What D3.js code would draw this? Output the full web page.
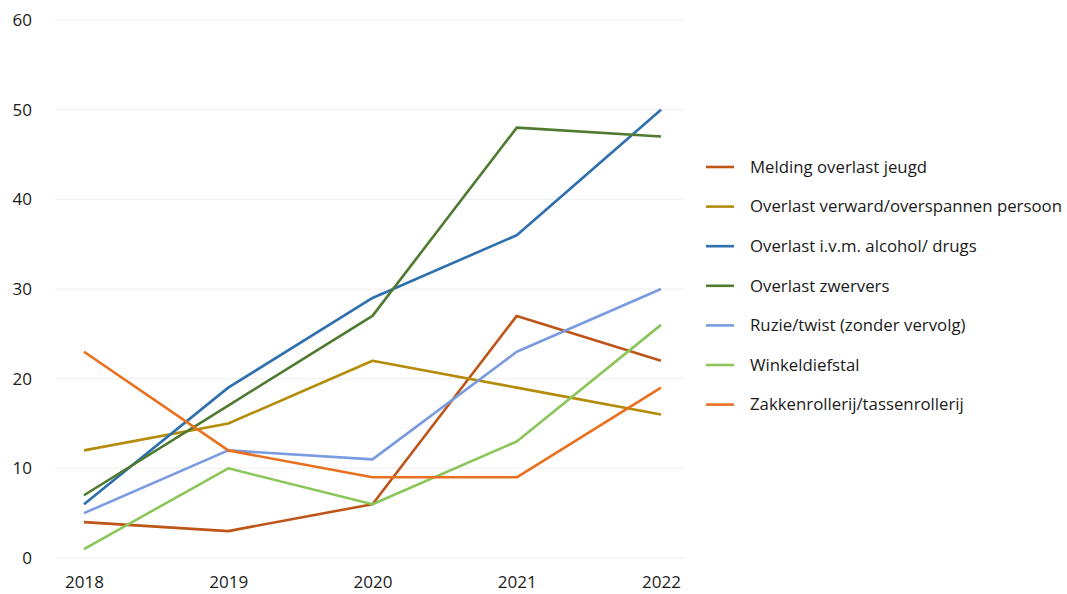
<!DOCTYPE html>
<html lang="nl">
<head>
<meta charset="UTF-8">
<title>Meldingen</title>
<script src="https://d3js.org/d3.v7.min.js"></script>
<style>
  body { margin: 0; background: #fff; }
  text { font-family: "Open Sans", "Noto Sans", sans-serif; fill: #1a1a1a; }
  .grid line { stroke: #eeeeee; stroke-width: 1px; }
  .line { fill: none; stroke-width: 2.6px; stroke-linejoin: round; }
</style>
</head>
<body>
<script>
var years = ["2018", "2019", "2020", "2021", "2022"];
var seriesNames = [
  "Melding overlast jeugd",
  "Overlast verward/overspannen persoon",
  "Overlast i.v.m. alcohol/ drugs",
  "Overlast zwervers",
  "Ruzie/twist (zonder vervolg)",
  "Winkeldiefstal",
  "Zakkenrollerij/tassenrollerij"
];
var jeugd = [4, 3, 6, 27, 22];
var verward = [12, 15, 22, 19, 16];
var alcohol = [6, 19, 29, 36, 50];
var zwervers = [7, 17, 27, 48, 47];
var ruzie = [5, 12, 11, 23, 30];
var winkel = [1, 10, 6, 13, 26];
var zakken = [23, 12, 9, 9, 19];
var yTicks = [0, 10, 20, 30, 40, 50, 60];

var allSeries = [jeugd, verward, alcohol, zwervers, ruzie, winkel, zakken];
var colors = ["#BE5518", "#B58B0A", "#2E6FAE", "#4F7A30", "#7A9BE0", "#8CC65A", "#E8701E"];

var W = 1067, H = 594;
var svg = d3.select("body").append("svg").attr("width", W).attr("height", H);

var x = d3.scalePoint().domain(years).range([84, 661]);
var y = d3.scaleLinear().domain([0, 60]).range([558, 20]);

// gridlines
svg.append("g").attr("class", "grid")
  .selectAll("line").data(yTicks).enter().append("line")
  .attr("x1", 55).attr("x2", 685)
  .attr("y1", function(d) { return y(d); })
  .attr("y2", function(d) { return y(d); });

// y axis labels
var yAxis = svg.append("g").attr("transform", "translate(40,0)")
  .call(d3.axisLeft(y).tickValues(yTicks).tickSize(0).tickPadding(8));
yAxis.select(".domain").remove();
yAxis.selectAll("text").style("font-size", "17px").attr("fill", "#1a1a1a")
  .style("font-family", "'Open Sans', sans-serif");

// x axis labels
var xAxis = svg.append("g").attr("transform", "translate(0,570)")
  .call(d3.axisBottom(x).tickSize(0).tickPadding(6));
xAxis.select(".domain").remove();
xAxis.selectAll("text").style("font-size", "17px").attr("fill", "#1a1a1a")
  .style("font-family", "'Open Sans', sans-serif");

var line = d3.line()
  .x(function(d, i) { return x(years[i]); })
  .y(function(d) { return y(d); });

svg.selectAll(".line").data(allSeries).enter().append("path")
  .attr("class", "line")
  .attr("stroke", function(d, i) { return colors[i]; })
  .attr("d", line);

// legend
var legend = svg.append("g").attr("transform", "translate(706,167)");
var item = legend.selectAll("g").data(seriesNames).enter().append("g")
  .attr("transform", function(d, i) { return "translate(0," + (i * 39.6) + ")"; });
item.append("line").attr("x1", 0).attr("x2", 28).attr("y1", 0).attr("y2", 0)
  .attr("stroke", function(d, i) { return colors[i]; }).attr("stroke-width", 2.6);
item.append("text").attr("x", 44).attr("y", 0).attr("dy", "0.35em")
  .style("font-size", "16.8px").text(function(d) { return d; });
</script>
</body>
</html>
